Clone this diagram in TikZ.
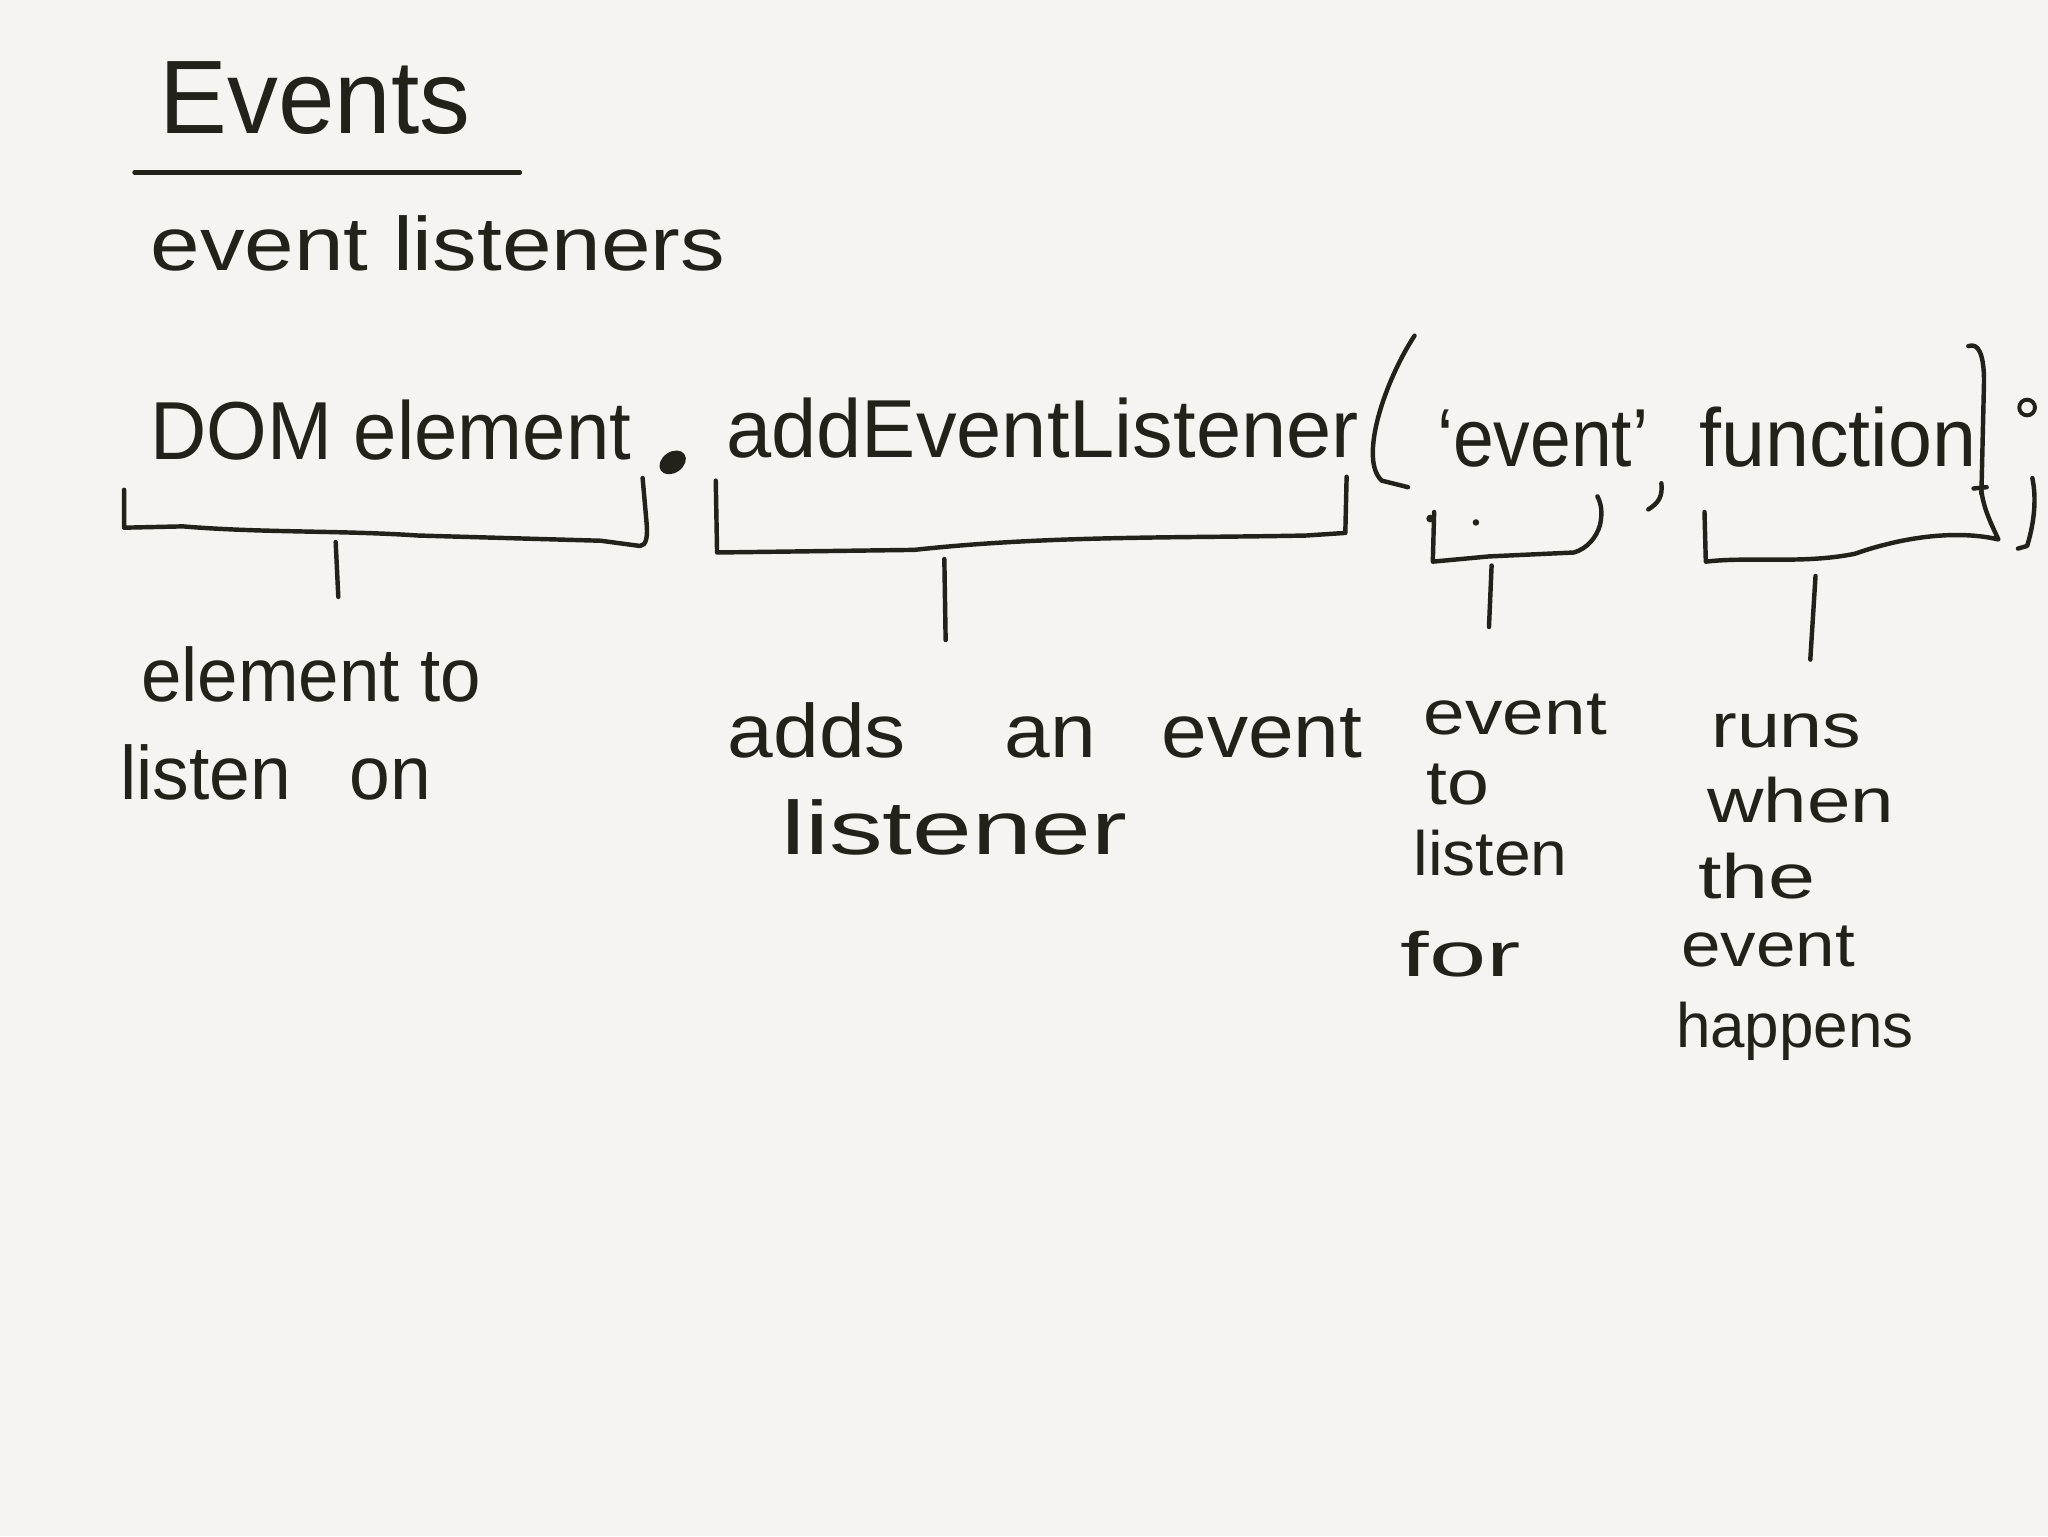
\documentclass[tikz,border=0pt]{standalone}
\usepackage{fontspec}
\setmainfont{Liberation Sans}
\usepackage{graphicx}
\definecolor{ink}{HTML}{22221A}
\definecolor{paper}{HTML}{F5F4F0}
\newcommand\fitw[2]{\resizebox{#1}{\height}{#2}}
\begin{document}
\begin{tikzpicture}[x=1pt,y=-1pt,
  txt/.style={inner sep=0pt, anchor=base west, text=ink},
  big/.style={txt, font=\fontsize{80}{90}\selectfont},
  code/.style={txt, font=\fontsize{63}{70}\selectfont},
  note/.style={txt, font=\fontsize{58}{64}\selectfont},
  col/.style={txt, font=\fontsize{48}{54}\selectfont},
  pen/.style={draw=ink, line width=3.4pt, line cap=round, line join=round}]
\fill[paper] (0,0) rectangle (1568,1176);
\useasboundingbox (0,0) rectangle (1568,1176);

% title
\node[big] (title) at (122,102) {\fitw{238pt}{Events}};
\coordinate (ulA) at (103,132);
\coordinate (ulB) at (398,132);
\draw[pen] (ulA) -- (ulB);
\node[note] (sub) at (115,207) {\fitw{440pt}{event listeners}};

% code line
\node[code] (dom) at (115,352) {\fitw{368pt}{DOM element}};
\fill[ink, rotate around={35:(515,354)}] (515,354) ellipse [x radius=11pt, y radius=8pt];
\node[code] (add) at (556,350) {\fitw{484pt}{addEventListener}};
\draw[pen] (1083,257) .. controls (1060,292) and (1040,352) .. (1058,368) -- (1078,373);
\node[code] (ev) at (1100,357) {\fitw{162pt}{‘event’}};
\draw[pen] (1272,370) .. controls (1273,380) and (1270,385) .. (1262,390);
\node[code] (fn) at (1301,357) {\fitw{212pt}{function}};
\draw[pen] (1507,265) .. controls (1515,262) and (1519,272) .. (1519,292) -- (1517,378);
\draw[pen] (1511,374) -- (1521,373);
\draw[ink, line width=3pt] (1552,312) circle [radius=6pt];
\draw[pen] (1556,366) .. controls (1560,385) and (1556,405) .. (1552,418) -- (1545,420);

% brackets
\draw[pen] (95,375) -- (95,404) -- (140,403) .. controls (200,408) and (260,406) .. (320,410) -- (460,414) -- (490,418) .. controls (495,418) and (496,410) .. (495,400) -- (492,366);
\draw[pen] (257,415) -- (259,457);

\draw[pen] (548,368) -- (549,423) -- (700,421) .. controls (800,410) and (900,412) .. (1000,410) -- (1030,408) -- (1031,365);
\draw[pen] (723,428) -- (724,490);

\draw[pen] (1098,392) -- (1097,430) -- (1140,426) -- (1205,423) .. controls (1215,420) and (1222,412) .. (1225,402) .. controls (1227,392) and (1226,386) .. (1223,380);
\fill[ink] (1095,397) circle [radius=3pt];
\fill[ink] (1130,400) circle [radius=2.5pt];
\draw[pen] (1142,433) -- (1140,480);

\draw[pen] (1517,376) .. controls (1519,390) and (1524,400) .. (1530,413) .. controls (1500,406) and (1460,410) .. (1420,424) .. controls (1380,432) and (1340,426) .. (1306,430) -- (1305,392);
\draw[pen] (1390,441) -- (1386,505);

% notes
\node[note] (n1a) at (108,537) {\fitw{260pt}{element to}};
\node[note] (n1b) at (92,612) {\fitw{238pt}{listen\hspace{0.8em}on}};
\node[note] (n2a) at (557,580) {\fitw{486pt}{adds\hspace{1.2em}an\hspace{0.8em}event}};
\node[note] (n2b) at (598,654) {\fitw{265pt}{listener}};
\node[col] (n3a) at (1090,562) {\fitw{140pt}{event}};
\node[col] (n3b) at (1092,616) {\fitw{48pt}{to}};
\node[col] (n3c) at (1082,670) {\fitw{118pt}{listen}};
\node[col] (n3d) at (1072,748) {\fitw{92pt}{for}};
\node[col] (n4a) at (1310,572) {\fitw{115pt}{runs}};
\node[col] (n4b) at (1307,630) {\fitw{143pt}{when}};
\node[col] (n4c) at (1300,688) {\fitw{90pt}{the}};
\node[col] (n4d) at (1287,740) {\fitw{133pt}{event}};
\node[col] (n4e) at (1283,802) {\fitw{182pt}{happens}};
\end{tikzpicture}
\end{document}
